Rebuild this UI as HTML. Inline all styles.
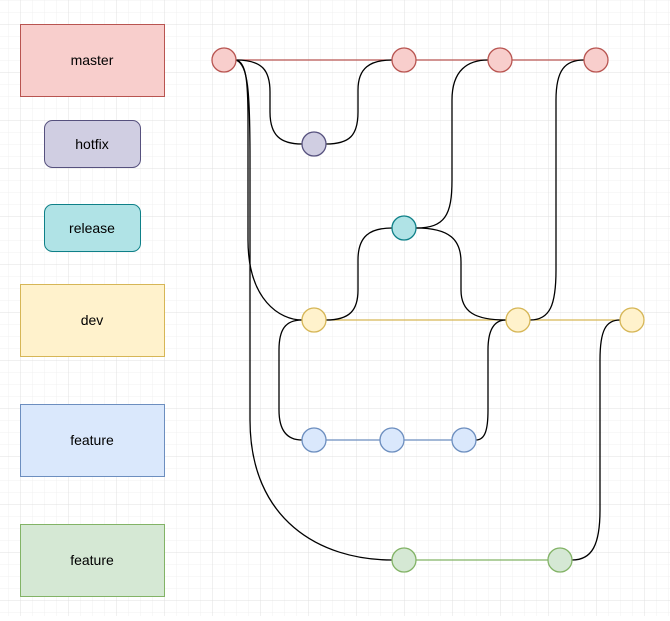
<!DOCTYPE html>
<html><head><meta charset="utf-8"><style>
html,body{margin:0;padding:0;background:#fff;}
body{width:670px;height:616px;overflow:hidden;font-family:"Liberation Sans",Arial,sans-serif;}
</style></head><body>
<svg width="670" height="616" xmlns="http://www.w3.org/2000/svg">
<defs>
<pattern id="mn" width="12" height="12" patternUnits="userSpaceOnUse" x="20" y="24">
<path d="M12 0H0V12" fill="none" stroke="#f0f0f0" stroke-width="1"/></pattern>
<pattern id="mj" width="48" height="48" patternUnits="userSpaceOnUse" x="20" y="24">
<path d="M48 0H0V48" fill="none" stroke="#e0e0e0" stroke-width="1"/></pattern>
</defs>
<rect width="670" height="616" fill="url(#mn)"/>
<rect width="670" height="616" fill="url(#mj)"/>

<g font-size="14" text-anchor="middle" fill="#000">
<rect x="20.5" y="24.5" width="144" height="72" fill="#f8cecc" stroke="#b85450"/>
<text x="92" y="65">master</text>
<rect x="44.5" y="120.5" width="96" height="47" rx="8" fill="#d0cee2" stroke="#56517e"/>
<text x="92" y="149">hotfix</text>
<rect x="44.5" y="204.5" width="96" height="47" rx="8" fill="#b0e3e6" stroke="#0e8088"/>
<text x="92" y="233">release</text>
<rect x="20.5" y="284.5" width="144" height="72" fill="#fff2cc" stroke="#d6b656"/>
<text x="92" y="325">dev</text>
<rect x="20.5" y="404.5" width="144" height="72" fill="#dae8fc" stroke="#6c8ebf"/>
<text x="92" y="445">feature</text>
<rect x="20.5" y="524.5" width="144" height="72" fill="#d5e8d4" stroke="#82b366"/>
<text x="92" y="565">feature</text>
</g>

<g stroke-width="1.3" fill="none">
<path d="M236,60H584" stroke="#b85450"/>
<path d="M326,320H620" stroke="#d6b656"/>
<path d="M326,440H452" stroke="#6c8ebf"/>
<path d="M416,560H548" stroke="#82b366"/>
</g>
<g stroke="#000" stroke-width="1.3" fill="none">
<path d="M236,60 C262,60 270,70 270,92 L270,112 C270,135 280,144 302,144"/>
<path d="M326,144 C350,144 358,135 358,112 L358,90 C358,68 370,60 392,60"/>
<path d="M236,60 C246,62 248,80 248,120 L248,240 C248,300 280,320 302,320"/>
<path d="M236,60 C248,65 250,90 250,160 L250,420 C250,520 320,560 392,560"/>
<path d="M302,320 C285,320 279,330 279,350 L279,410 C279,432 288,440 302,440"/>
<path d="M326,320 C350,320 358,310 358,290 L358,260 C358,236 370,228 392,228"/>
<path d="M416,228 C445,228 452,215 452,180 L452,100 C452,70 468,60 488,60"/>
<path d="M416,228 C450,228 461,240 461,262 L461,290 C461,312 475,320 506,320"/>
<path d="M476,440 C485,440 488,430 488,410 L488,350 C488,328 495,320 506,320"/>
<path d="M530,320 C550,320 556,305 556,270 L556,100 C556,70 565,60 584,60"/>
<path d="M572,560 C592,560 600,545 600,510 L600,360 C600,330 606,320 620,320"/>
</g>

<g stroke-width="1.3">
<g fill="#f8cecc" stroke="#b85450">
<circle cx="224" cy="60" r="12"/><circle cx="404" cy="60" r="12"/><circle cx="500" cy="60" r="12"/><circle cx="596" cy="60" r="12"/>
</g>
<circle cx="314" cy="144" r="12" fill="#d0cee2" stroke="#56517e"/>
<circle cx="404" cy="228" r="12" fill="#b0e3e6" stroke="#0e8088"/>
<g fill="#fff2cc" stroke="#d6b656">
<circle cx="314" cy="320" r="12"/><circle cx="518" cy="320" r="12"/><circle cx="632" cy="320" r="12"/>
</g>
<g fill="#dae8fc" stroke="#6c8ebf">
<circle cx="314" cy="440" r="12"/><circle cx="392" cy="440" r="12"/><circle cx="464" cy="440" r="12"/>
</g>
<g fill="#d5e8d4" stroke="#82b366">
<circle cx="404" cy="560" r="12"/><circle cx="560" cy="560" r="12"/>
</g>
</g>
</svg>
</body></html>
